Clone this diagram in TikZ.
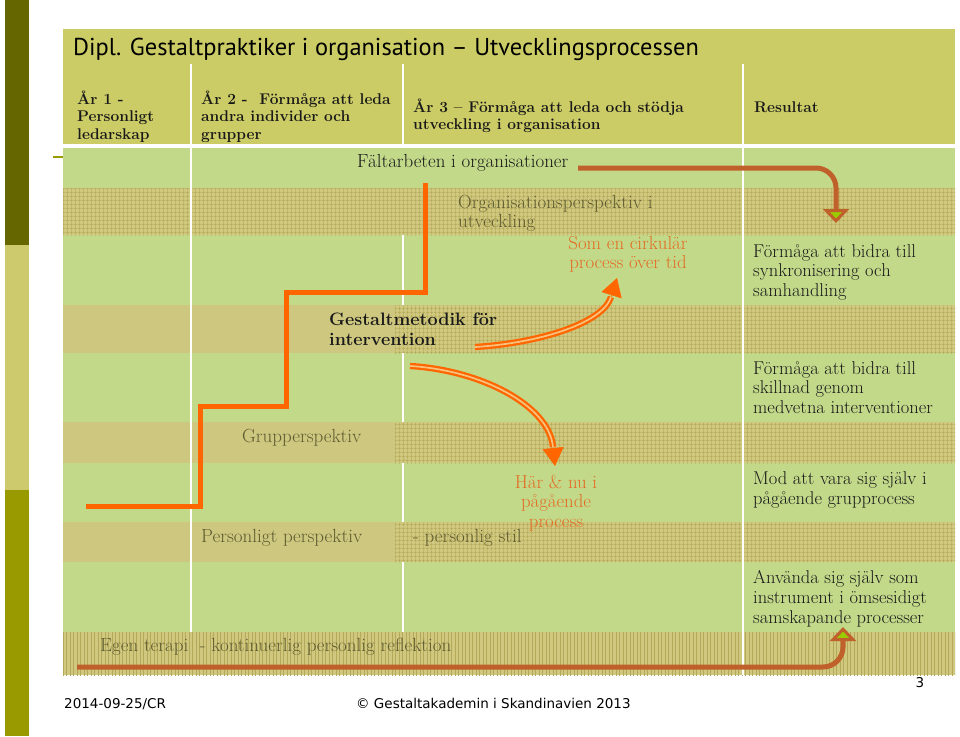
\documentclass[tikz,border=0pt]{standalone}
\usepackage{fontspec}
\usetikzlibrary{arrows.meta,patterns.meta}

\newfontfamily\titlefont{PT Sans}
\newfontfamily\footfont{DejaVu Sans}

\definecolor{oliveDark}{HTML}{666600}
\definecolor{oliveLight}{HTML}{CCCA6C}
\definecolor{oliveMid}{HTML}{999900}
\definecolor{headBand}{HTML}{CCCC66}
\definecolor{rowGreen}{HTML}{C3D98A}
\definecolor{bandTan}{HTML}{CDC77F}
\definecolor{gridBase}{HTML}{D0C87E}
\definecolor{gridLine}{HTML}{B4A958}
\definecolor{stepOrange}{HTML}{FF6600}
\definecolor{dblMid}{HTML}{F9C27A}
\definecolor{fieldBrown}{HTML}{C0602A}
\definecolor{noteOrange}{HTML}{E36C24}
\definecolor{bandText}{HTML}{5E5B30}
\definecolor{tipGreen}{HTML}{99CC00}

\begin{document}
\begin{tikzpicture}[x=1pt,y=-1pt,
    hdr/.style={anchor=base west,align=left,inner sep=0pt,text=black!90,font=\bfseries\fontsize{15.5}{17.5}\selectfont},
    metod/.style={anchor=base west,align=left,inner sep=0pt,text=black!90,font=\bfseries\fontsize{18}{19.3}\selectfont},
    res/.style={anchor=base west,align=left,inner sep=0pt,text=black!90,font=\fontsize{18.5}{19.6}\selectfont},
    lbl/.style={anchor=base west,align=left,inner sep=0pt,text=bandText,font=\fontsize{19}{19}\selectfont},
    note/.style={anchor=base,align=center,inner sep=0pt,text=noteOrange,font=\fontsize{18.8}{19.2}\selectfont},
    foot/.style={anchor=base west,inner sep=0pt,font=\footfont\fontsize{13.5}{15}\selectfont},
    gridband/.style={pattern={Hatch[angle=0,distance=4pt,line width=0.45pt]},pattern color=gridLine},
    stripeband/.style={pattern={Lines[angle=90,distance=3.5pt,line width=0.5pt]},pattern color=gridLine},
    sep/.style={draw=white,line width=1.5pt},
    stepline/.style={draw=stepOrange,line width=5pt},
    dblline/.style={draw=stepOrange,line width=2.3pt,double=dblMid,double distance=1.7pt},
    tipline/.style={draw=stepOrange,fill=stepOrange,line width=0.5pt,-{Triangle[length=18pt,width=21pt]}},
    fieldline/.style={draw=fieldBrown,line width=5pt,rounded corners=20pt},
    fieldtip/.style={-{Triangle[length=14pt,width=26pt,fill=tipGreen,line width=3pt]}}
  ]

    \useasboundingbox (0,0) rectangle (960,736);
    \fill[white] (0,0) rectangle (960,736);

    \fill[oliveDark] (5,0) rectangle (29,245);
    \fill[oliveLight] (5,245) rectangle (29,490);
    \fill[oliveMid] (5,490) rectangle (29,736);
    \draw[oliveMid,line width=2pt] (53,157) -- (63,157);

    \fill[headBand] (63,29) rectangle (955,144);
    \fill[rowGreen] (63,148) rectangle (955,675);

    \fill[gridBase] (63,188) rectangle (955,235);
    \fill[gridband] (63,188) rectangle (955,235);

    \fill[bandTan] (63,305) rectangle (395,353);
    \fill[gridBase] (395,305) rectangle (955,353);
    \fill[gridband] (395,305) rectangle (955,353);

    \fill[bandTan] (63,422) rectangle (395,463);
    \fill[gridBase] (395,422) rectangle (955,463);
    \fill[gridband] (395,422) rectangle (955,463);

    \fill[bandTan] (63,522) rectangle (395,562);
    \fill[gridBase] (395,522) rectangle (955,562);
    \fill[gridband] (395,522) rectangle (955,562);

    \fill[gridBase] (63,632) rectangle (955,675);
    \fill[stripeband] (63,632) rectangle (955,675);

    \draw[sep] (191,64) -- (191,632);
    \draw[sep] (403,64) -- (403,144);
    \draw[sep] (403,235) -- (403,305);
    \draw[sep] (403,353) -- (403,422);
    \draw[sep] (403,463) -- (403,522);
    \draw[sep] (403,562) -- (403,632);
    \draw[sep] (743,64) -- (743,675);

    \node[anchor=base west,inner sep=0pt,font=\titlefont\fontsize{24.4}{28}\selectfont] (title) at (73,55) {Dipl. Gestaltpraktiker i organisation – Utvecklingsprocessen};

    \node[hdr] (yr1) at (77,139) {År 1 -\\Personligt\\ledarskap};
    \node[hdr] (yr2) at (201,139) {År 2 -~~Förmåga att leda\\andra individer och\\grupper};
    \node[hdr] (yr3) at (413,129.5) {År 3 – Förmåga att leda och stödja\\utveckling i organisation};
    \node[hdr] (result) at (754,112) {Resultat};

    \node[res,font=\fontsize{18.9}{20}\selectfont] (falt) at (357,167) {Fältarbeten i organisationer};

    \node[lbl] (orgPersp) at (458,227) {Organisationsperspektiv i\\utveckling};
    \node[lbl] (grpPersp) at (242,442) {Grupperspektiv};
    \node[lbl] (perPersp) at (201,542) {Personligt perspektiv};
    \node[lbl] (perStil) at (413,542) {- personlig stil};
    \node[lbl] (egen) at (100,651) {Egen terapi~~- kontinuerlig personlig reflektion};

    \node[metod] (metod) at (329,345) {Gestaltmetodik för\\intervention};

    \node[note] (cycle) at (628,268.5) {Som en cirkulär\\process över tid};
    \node[note] (now) at (556,527) {Här \& nu i\\pågående\\process};

    \node[res] (res1) at (753,296.5) {Förmåga att bidra till\\synkronisering och\\samhandling};
    \node[res] (res2) at (753,413.5) {Förmåga att bidra till\\skillnad genom\\medvetna interventioner};
    \node[res] (res3) at (753,504) {Mod att vara sig själv i\\pågående grupprocess};
    \node[res] (res4) at (753,623) {Använda sig själv som\\instrument i ömsesidigt\\samskapande processer};

    \coordinate (step0) at (86,506);
    \coordinate (step1) at (200,406);
    \coordinate (step2) at (286,292);
    \coordinate (step3) at (425,183);
    \draw[stepline] (step0) -| (step1) -| (step2) -| (step3);

    \coordinate (cycS) at (475,347);
    \coordinate (cycB) at (611,297);
    \coordinate (cycT) at (617,278);
    \draw[dblline] (cycS) .. controls (540,343) and (603,323) .. (cycB);
    \draw[tipline] (cycB) -- (cycT);

    \coordinate (nowS) at (410,366);
    \coordinate (nowB) at (553,447);
    \coordinate (nowT) at (555,466);
    \draw[dblline] (nowS) .. controls (480,370) and (549,405) .. (nowB);
    \draw[tipline] (nowB) -- (nowT);

    \coordinate (faltA) at (578,168);
    \coordinate (faltT) at (836,223);
    \draw[fieldline,fieldtip] (faltA) -| (faltT);

    \coordinate (egenA) at (77,667);
    \coordinate (egenT) at (843,627);
    \draw[fieldline,fieldtip] (egenA) -| (egenT);

    \node[foot] (date) at (64,708) {2014-09-25/CR};
    \node[foot] (copy) at (356,708) {© Gestaltakademin i Skandinavien 2013};
    \node[foot,anchor=base] (pageno) at (920,687) {3};

  \end{tikzpicture}
\end{document}
